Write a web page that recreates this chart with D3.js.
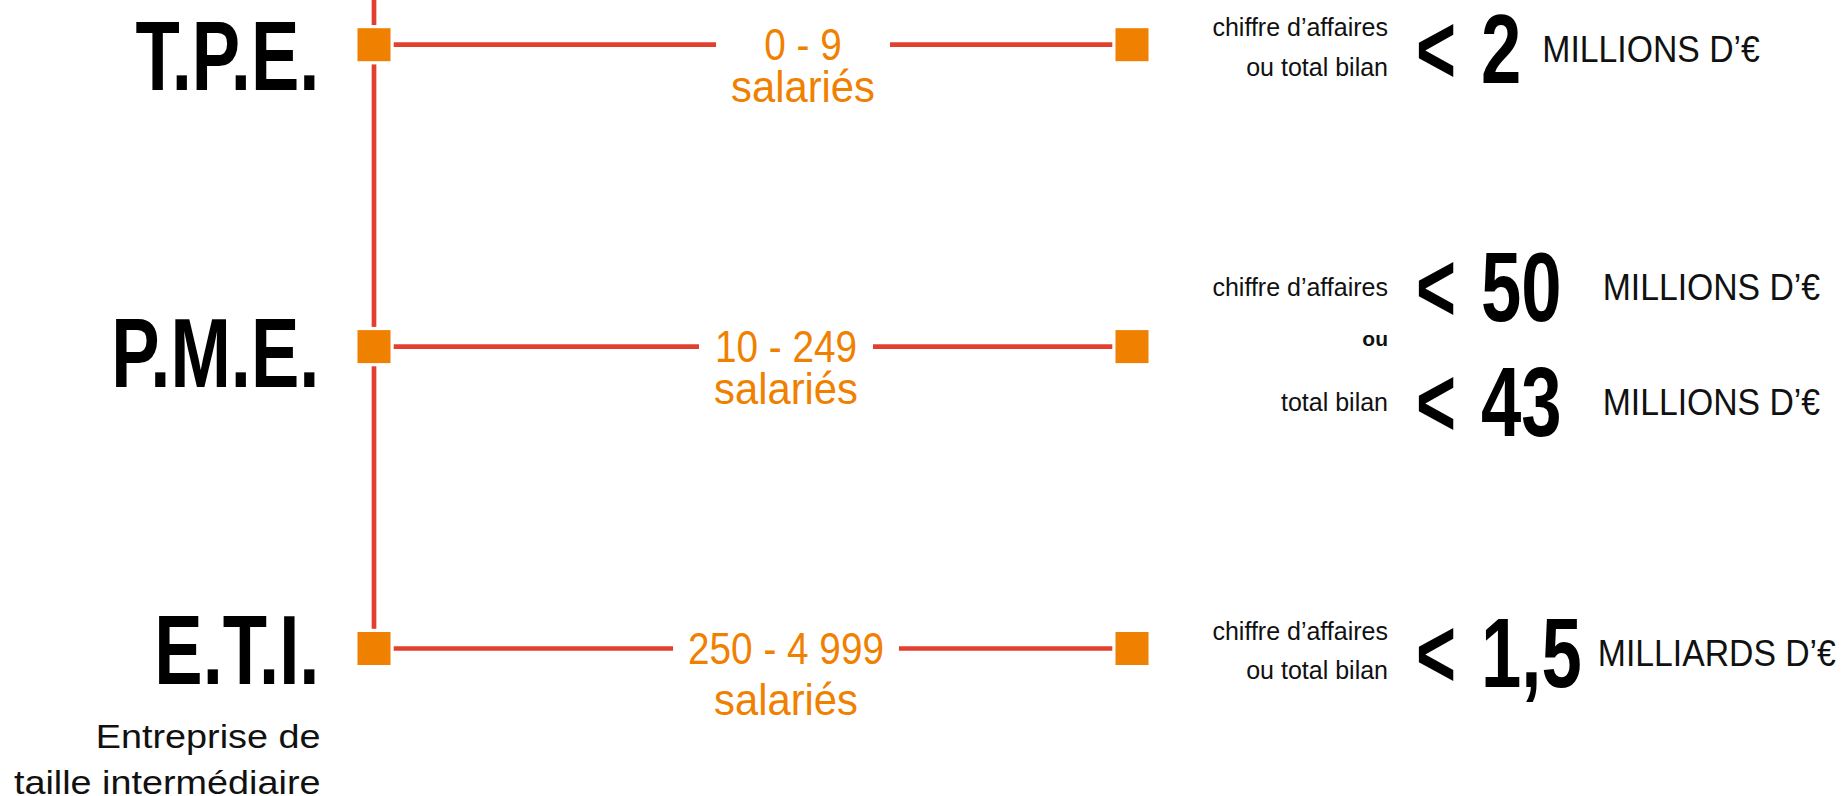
<!DOCTYPE html>
<html><head><meta charset="utf-8">
<script src="https://cdn.jsdelivr.net/npm/d3@7"></script>
<style>html,body{margin:0;padding:0;background:#fff;overflow:hidden}</style>
</head><body><svg id="chart" width="1845" height="796"></svg>
<script>
// ---- data ----
const categories = ["T.P.E.", "P.M.E.", "E.T.I."];
const subtitles = [[], [], ["Entreprise de", "taille intermédiaire"]];
const employeeRanges = ["0 - 9", "10 - 249", "250 - 4 999"];
const employeeUnit = "salariés";
const criteriaLabels = [
  [["chiffre d’affaires", "ou total bilan"]],
  [["chiffre d’affaires"], ["total bilan"]],
  [["chiffre d’affaires", "ou total bilan"]]
];
const criteriaJoin = ["", "ou", ""];
const thresholdValues = [[2], [50, 43], [1.5]];
const thresholdUnits = [["MILLIONS D’€"], ["MILLIONS D’€", "MILLIONS D’€"], ["MILLIARDS D’€"]];

// ---- layout / style ----
const RED = "#E2402E", ORANGE = "#F08000", INK = "#111";
const FONT = "'Liberation Sans',Arial,Helvetica,sans-serif";
const BIG = 98, BIGSX = 0.74;
const labelCenterX = [803, 786, 786];
const unitLineDy = [42, 42, 51];
const bigLabelDy = [45.3, 40, 35.5];
const unitGap = [21, 41, 16];
const NODE = 33, NODEPAD = 3.2;
const LT_X = 1416, NUM_X = 1481;

const fr = d3.formatLocale({decimal: ",", thousands: " ", grouping: [3], currency: ["", " €"]});
const fmt = fr.format("~f");

const svg = d3.select("#chart");
const y = d3.scalePoint().domain(categories).range([44.7, 648.5]);
const x = d3.scalePoint().domain(["left", "right"]).range([374, 1132]);

function stext(parent, tx, ty, sx, anchor) {
  return parent.append("text")
    .attr("transform", `translate(${tx},${ty}) scale(${sx},1)`)
    .attr("text-anchor", anchor || "start")
    .attr("font-family", FONT);
}

// vertical spine
svg.append("line")
  .attr("x1", x("left")).attr("x2", x("left"))
  .attr("y1", -5).attr("y2", y(categories[categories.length - 1]))
  .attr("stroke", RED).attr("stroke-width", 4.7);

const rows = svg.selectAll("g.row").data(categories).join("g").attr("class", "row");

rows.each(function (cat, i) {
  const g = d3.select(this);
  const cy = y(cat);

  // horizontal connector
  g.append("line")
    .attr("x1", x("left")).attr("x2", x("right"))
    .attr("y1", cy).attr("y2", cy)
    .attr("stroke", RED).attr("stroke-width", 4.7);

  // employee label with white gap behind
  const lg = g.append("g");
  const bg = lg.append("rect").attr("fill", "#fff");
  const t1 = stext(lg, labelCenterX[i], cy + 15, 0.88, "middle")
    .attr("font-size", 44).attr("fill", ORANGE).text(employeeRanges[i]);
  const t2 = stext(lg, labelCenterX[i], cy + 15 + unitLineDy[i], 0.95, "middle")
    .attr("font-size", 44).attr("fill", ORANGE).text(employeeUnit);
  const w = Math.max(t1.node().getComputedTextLength() * 0.88, t2.node().getComputedTextLength() * 0.95);
  bg.attr("x", labelCenterX[i] - w / 2 - 15).attr("width", w + 30)
    .attr("y", cy - 10).attr("height", 20);

  // big category label
  stext(g, 319.5, cy + bigLabelDy[i], BIGSX, "end")
    .attr("font-weight", 700).attr("font-size", BIG).attr("fill", "#000").text(cat);

  // subtitle
  subtitles[i].forEach((s, k) => {
    stext(g, 320.5, cy + 99.8 + k * 45.2, 1.145, "end")
      .attr("font-size", 33).attr("fill", INK).text(s);
  });

  // criteria
  const n = thresholdValues[i].length;
  thresholdValues[i].forEach((v, j) => {
    const b = n === 1 ? cy + 38 : cy - 26 + j * 115;
    const labs = criteriaLabels[i][j];
    labs.forEach((l, k) => {
      const ly = labs.length === 1 ? b - 24.5 : b - 46.5 + k * 39.3;
      g.append("text")
        .attr("x", 1388).attr("y", ly).attr("text-anchor", "end")
        .attr("font-family", FONT).attr("font-size", 25).attr("fill", INK)
        .text(l);
    });
    stext(g, LT_X, b, 0.7)
      .attr("font-weight", 700).attr("font-size", BIG).attr("fill", "#000")
      .text("<");
    const vt = stext(g, NUM_X, b, BIGSX)
      .attr("font-weight", 700).attr("font-size", BIG).attr("fill", "#000")
      .text(fmt(v));
    const vEnd = NUM_X + vt.node().getComputedTextLength() * BIGSX;
    stext(g, vEnd + unitGap[i], b - 21, 0.9)
      .attr("font-size", 37.5).attr("fill", INK)
      .text(thresholdUnits[i][j]);
  });
  if (criteriaJoin[i]) {
    g.append("text")
      .attr("x", 1388).attr("y", cy - 1).attr("text-anchor", "end")
      .attr("font-family", FONT).attr("font-weight", 700).attr("font-size", 21).attr("fill", INK)
      .text(criteriaJoin[i]);
  }

  // nodes: white halo + orange square
  const nodes = g.selectAll("g.node").data(["left", "right"]).join("g").attr("class", "node");
  nodes.append("rect")
    .attr("x", d => x(d) - NODE / 2 - NODEPAD).attr("y", cy - NODE / 2 - NODEPAD)
    .attr("width", NODE + 2 * NODEPAD).attr("height", NODE + 2 * NODEPAD)
    .attr("fill", "#fff");
  nodes.append("rect")
    .attr("x", d => x(d) - NODE / 2).attr("y", cy - NODE / 2)
    .attr("width", NODE).attr("height", NODE)
    .attr("fill", ORANGE);
});
</script>
</body></html>
